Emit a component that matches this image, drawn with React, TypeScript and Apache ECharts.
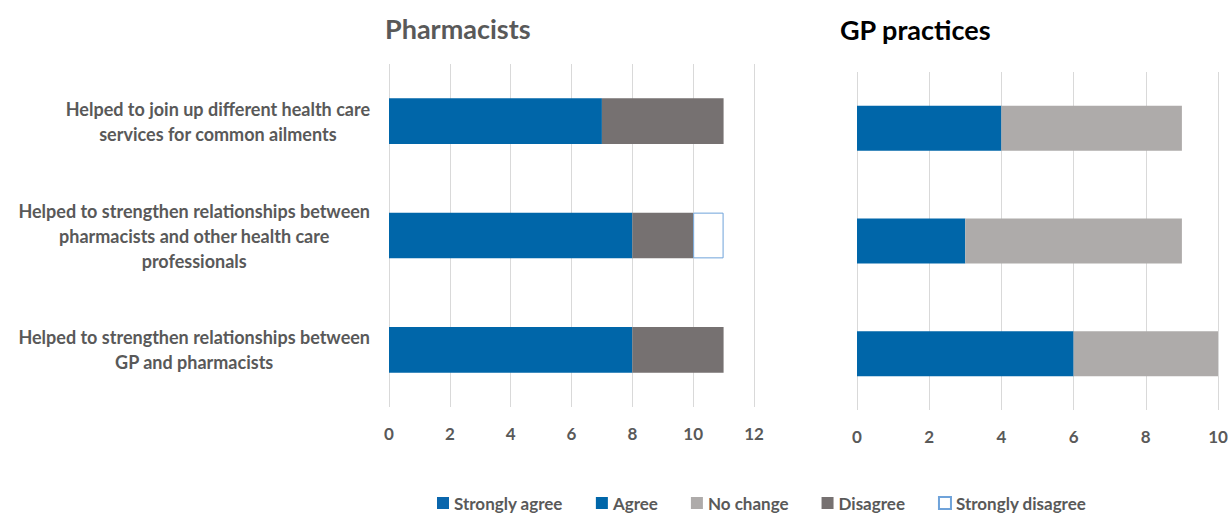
import React, { useEffect, useRef } from "react";
import * as echarts from "echarts";

const categories = [
  "Helped to join up different health care\nservices for common ailments",
  "Helped to strengthen relationships between\npharmacists and other health care\nprofessionals",
  "Helped to strengthen relationships between\nGP and pharmacists",
];

const seriesNames = ["Strongly agree", "Agree", "No change", "Disagree", "Strongly disagree"];

// Pharmacists (top to bottom)
const pharmStronglyAgree: (number | null)[] = [null, null, null];
const pharmAgree: (number | null)[] = [7, 8, 8];
const pharmNoChange: (number | null)[] = [null, null, null];
const pharmDisagree: (number | null)[] = [4, 2, 3];
const pharmStronglyDisagree: (number | null)[] = [null, 1, null];

// GP practices (top to bottom)
const gpAgree: (number | null)[] = [4, 3, 6];
const gpNoChange: (number | null)[] = [5, 6, 4];

const pharmTicks = { min: 0, max: 12, interval: 2 };
const gpTicks = { min: 0, max: 10, interval: 2 };

const COLORS: Record<string, any> = {
  "Strongly agree": { color: "#0A66AC" },
  Agree: { color: "#0066A9" },
  "No change": { color: "#AEABAA" },
  Disagree: { color: "#767171" },
  "Strongly disagree": { color: "#FFFFFF", borderColor: "#6FA3DA", borderWidth: 1 },
};

const FONT = "Lato";
const GREY_TEXT = "#595959";

export default function App() {
  const ref = useRef<HTMLDivElement>(null);
  useEffect(() => {
    if (!ref.current) return;
    const chart = echarts.init(ref.current, undefined, { renderer: "svg" });

    const mk = (name: string, data: (number | null)[], idx: number, stack: string) => ({
      name,
      type: "bar",
      stack,
      xAxisIndex: idx,
      yAxisIndex: idx,
      barWidth: "40%",
      data,
      itemStyle: COLORS[name],
      emphasis: { disabled: true },
    });

    const xAxisCommon = {
      type: "value",
      axisLine: { show: false },
      axisTick: { show: false },
      splitLine: { show: true, lineStyle: { color: "#D9D9D9", width: 1 } },
      axisLabel: {
        color: GREY_TEXT,
        fontFamily: FONT,
        fontWeight: "bold",
        fontSize: 17,
        margin: 18,
      },
    };

    const option: any = {
      animation: false,
      title: [
        {
          text: "Pharmacists",
          left: 380,
          top: 10,
          textStyle: { color: GREY_TEXT, fontFamily: FONT, fontWeight: "bold", fontSize: 27 },
        },
        {
          text: "GP practices",
          left: 835,
          top: 11,
          textStyle: { color: "#000000", fontFamily: FONT, fontWeight: "bold", fontSize: 27 },
        },
      ],
      legend: {
        data: seriesNames,
        left: 432,
        top: 489,
        itemWidth: 12,
        itemHeight: 12,
        itemGap: 33,
        icon: "rect",
        textStyle: {
          color: GREY_TEXT,
          fontFamily: FONT,
          fontWeight: "bold",
          fontSize: 17,
          lineHeight: 18,
        },
      },
      grid: [
        { left: 389, right: 1231 - 754, top: 64, height: 343, containLabel: false },
        { left: 857, right: 1231 - 1218, top: 72, height: 338, containLabel: false },
      ],
      xAxis: [
        { ...xAxisCommon, gridIndex: 0, ...pharmTicks },
        { ...xAxisCommon, gridIndex: 1, ...gpTicks },
      ],
      yAxis: [
        {
          type: "category",
          gridIndex: 0,
          inverse: true,
          data: categories,
          axisLine: { show: false },
          axisTick: { show: false },
          axisLabel: {
            align: "right",
            margin: 19,
            formatter: (v: string) =>
              v
                .split("\n")
                .map((l) => `{c|${l}}`)
                .join("\n"),
            rich: {
              c: {
                align: "center",
                color: GREY_TEXT,
                fontFamily: FONT,
                fontWeight: "bold",
                fontSize: 18,
                lineHeight: 25,
              },
            },
          },
        },
        {
          type: "category",
          gridIndex: 1,
          inverse: true,
          data: categories,
          axisLine: { show: false },
          axisTick: { show: false },
          axisLabel: { show: false },
        },
      ],
      series: [
        mk("Strongly agree", pharmStronglyAgree, 0, "p"),
        mk("Agree", pharmAgree, 0, "p"),
        mk("No change", pharmNoChange, 0, "p"),
        mk("Disagree", pharmDisagree, 0, "p"),
        mk("Strongly disagree", pharmStronglyDisagree, 0, "p"),
        mk("Agree", gpAgree, 1, "g"),
        mk("No change", gpNoChange, 1, "g"),
      ],
    };

    chart.setOption(option);
    return () => chart.dispose();
  }, []);

  return (
    <div
      ref={ref}
      style={{ position: "fixed", left: 0, top: 0, width: 1231, height: 515, background: "#fff" }}
    />
  );
}
